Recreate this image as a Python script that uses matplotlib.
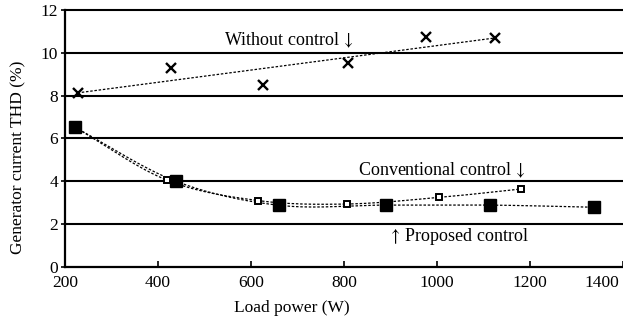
import numpy as np
import matplotlib
matplotlib.use("Agg")
import matplotlib.pyplot as plt
from matplotlib.transforms import ScaledTranslation

# ---- data ----
wo_x = [227, 428, 625, 809, 977, 1124]
wo_y = [8.11, 9.30, 8.49, 9.51, 10.75, 10.68]

conv_x = [221, 419, 616, 806, 1005, 1180]
conv_y = [6.52, 4.05, 3.09, 2.93, 3.24, 3.63]

prop_x = [221, 439, 661, 890, 1115, 1337]
prop_y = [6.52, 3.99, 2.87, 2.88, 2.88, 2.78]

x_ticks = [200, 400, 600, 800, 1000, 1200, 1400]
y_ticks = [0, 2, 4, 6, 8, 10, 12]

FONT = ['Liberation Serif', 'DejaVu Serif']
plt.rcParams['font.family'] = FONT
plt.rcParams['font.size'] = 12.5
plt.rcParams['mathtext.fontset'] = 'stix'


def smooth(xs, ys, n=30):
    """Catmull-Rom rendering of a line through the given points."""
    xs = np.asarray(xs, float); ys = np.asarray(ys, float)
    P = np.column_stack([xs, ys])
    P = np.vstack([P[0] - (P[1] - P[0]), P, P[-1] + (P[-1] - P[-2])])
    out = []
    t = np.linspace(0, 1, n)[:, None]
    for i in range(1, len(P) - 2):
        p0, p1, p2, p3 = P[i - 1], P[i], P[i + 1], P[i + 2]
        seg = 0.5 * ((2 * p1) + (-p0 + p2) * t + (2 * p0 - 5 * p1 + 4 * p2 - p3) * t ** 2
                     + (-p0 + 3 * p1 - 3 * p2 + p3) * t ** 3)
        out.append(seg)
    out = np.vstack(out)
    return out[:, 0], out[:, 1]


fig = plt.figure(figsize=(6.23, 3.20), dpi=100)
W, H = 623, 320
ax = fig.add_axes([65 / W, 1 - 266.7 / H, (623 - 65) / W, (266.7 - 10) / H])
ax.set_xlim(200, 1400)
ax.set_ylim(0, 12)

# grid lines
for yv in y_ticks[1:]:
    ax.axhline(yv, color='black', lw=1.5, zorder=1, clip_on=False)

ls = (0, (2.0, 1.4))
# without control trend (linear)
c = np.polyfit(wo_x, wo_y, 1)
xx = np.linspace(wo_x[0], wo_x[-1], 100)
ax.plot(xx, np.polyval(c, xx), color='black', lw=0.9, ls=ls, zorder=2)
ax.plot(wo_x, wo_y, ls='none', marker='x', ms=7, mew=1.7, color='black', zorder=4)

# conventional
sx, sy = smooth(conv_x, conv_y)
ax.plot(sx, sy, color='black', lw=0.9, ls=ls, zorder=2)
ax.plot(conv_x, conv_y, ls='none', marker='s', ms=5, mew=1.4, mfc='white', mec='black', zorder=3)

# proposed
sx, sy = smooth(prop_x, prop_y)
ax.plot(sx, sy, color='black', lw=0.9, ls=ls, zorder=2)
ax.plot(prop_x, prop_y, ls='none', marker='s', ms=8, color='black', zorder=5)

# spines / ticks
for s in ['top', 'right']:
    ax.spines[s].set_visible(False)
ax.spines['left'].set_linewidth(1.6)
ax.spines['bottom'].set_linewidth(1.6)
ax.set_xticks(x_ticks)
ax.set_yticks(y_ticks)
ax.tick_params(axis='x', direction='in', length=4, width=1.2, pad=6, labelsize=12.5)
ax.tick_params(axis='y', direction='out', length=3, width=1.2, pad=2, labelsize=12.5)
labels = ax.get_xticklabels()
lbl = labels[-1]
lbl.set_transform(lbl.get_transform() + ScaledTranslation(-21 / 100, 0, fig.dpi_scale_trans))

# annotations
ax.text(681, 10.6, 'Without control$\\,\\downarrow$', ha='center', va='center', fontsize=13)
ax.text(1010, 4.5, 'Conventional control$\\,\\downarrow$', ha='center', va='center', fontsize=13)
ax.text(1045, 1.4, '$\\uparrow\\,$Proposed control', ha='center', va='center', fontsize=13)

fig.text(291.5 / W, 1 - 308 / H, 'Load power (W)', ha='center', va='center', fontsize=12.5)
fig.text(18 / W, 1 - 157 / H, 'Generator current THD (%)', ha='center', va='center',
         rotation=90, fontsize=12.5)

fig.savefig('out.png', dpi=100)
